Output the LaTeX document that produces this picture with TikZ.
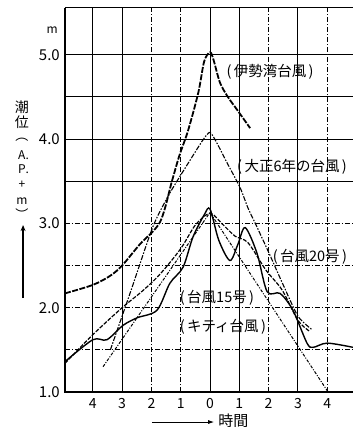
\documentclass[tikz,border=0pt]{standalone}
\usepackage{fontspec}
\newfontfamily\jpfont{Noto Sans CJK JP}
\usetikzlibrary{arrows.meta}

\tikzset{
  gitter/.style={line width=1pt},
  gitterstrich/.style={line width=0.8pt, dash pattern=on 5pt off 2pt on 1pt off 2pt},
  achse/.style={line width=1.8pt},
  marke/.style={font=\jpfont\fontsize{14}{14}\selectfont, inner sep=0pt},
  kurvenname/.style={font=\jpfont\fontsize{14.5}{14.5}\selectfont, inner sep=0pt},
  isewan/.style={line width=1.8pt, dash pattern=on 6pt off 1.5pt},
  taisho/.style={line width=1.1pt, dash pattern=on 5pt off 1.5pt on 1.5pt off 1.5pt},
  nrzwanzig/.style={line width=1.4pt},
  nrfuenfzehn/.style={line width=1.2pt, dash pattern=on 4pt off 1.5pt},
  kitty/.style={line width=1pt, dash pattern=on 3pt off 1.5pt on 1pt off 1.5pt},
}

\begin{document}
\begin{tikzpicture}[x=29.3pt, y=84.3pt]
\useasboundingbox (-7.167,0.585) rectangle (4.88,5.65);

% Gitterlinien
\foreach \h in {-4,-3,0,1,3}
    \draw[gitter] (\h,1) -- (\h,5.555);
\foreach \h in {-2,-1,2,4}
    \draw[gitterstrich] (\h,1) -- (\h,5.555);
\foreach \v in {3.5,4,4.5,5}
    \draw[gitter] (-4.95,\v) -- (4.88,\v);
\foreach \v in {1.5,2,2.5,3}
    \draw[gitterstrich] (-4.95,\v) -- (4.88,\v);
\draw[gitter] (-4.95,5.555) -- (4.88,5.555);
\draw[achse] (-4.95,5.555) -- (-4.95,1) -- (4.88,1);

% Beschriftung der Achsen
\foreach \h/\t [count=\i] in {-4/4,-3/3,-2/2,-1/1,0/0,1/1,2/2,3/3,4/4}
    \node[marke] (zeit\i) at (\h,0.86) {\t};
\foreach \v in {1,...,5}
    \node[marke, font=\jpfont\fontsize{15}{15}\selectfont, anchor=east] (pegel\v) at (-5.12,\v) {\v.0};
\node[marke, font=\jpfont\fontsize{12}{12}\selectfont] (einheit) at (-5.39,5.29) {m};

% senkrechte Achsenbeschriftung, Zeichen einzeln gesetzt
\foreach \zeichen/\py/\gr [count=\i] in {潮/107.5/14, 位/122.5/14, ︵/140/13, A\rlap{.}/155/12,
        P\rlap{.}/169.5/12, +/185/12, m/201/12, ︶/214/13} {
    \pgfmathsetmacro{\pv}{1+(392-\py)/84.3}
    \node[marke, font=\jpfont\fontsize{\gr}{\gr}\selectfont] (titel\i) at (-6.42,\pv) {\zeichen};
}
\coordinate (pfeilfuss) at (-6.38,2.115);
\coordinate (pfeilspitze) at (-6.38,2.98);
\draw[line width=2.4pt, -{Stealth[length=6pt,width=5pt]}] (pfeilfuss) -- (pfeilspitze);

\node[marke, font=\jpfont\fontsize{15}{15}\selectfont] (zeitachse) at (0.8,0.66) {時間};
\coordinate (zeitstart) at (-1.98,0.644);
\draw[line width=0.9pt, -{Latex[length=6pt,width=4pt]}, shorten >=4pt]
    (zeitstart) -- (zeitstart -| zeitachse.west);

% Kurven
\draw[isewan] plot[smooth, tension=0.5] coordinates {
    (-4.95,2.17) (-4,2.27) (-3.4,2.38) (-3,2.5) (-2.4,2.75) (-1.7,3.02)
    (-1.3,3.5) (-1.05,3.8) (-0.75,4.1) (-0.4,4.55) (-0.2,4.92) (0,5.03)
    (0.12,4.94) (0.34,4.67) (0.61,4.5) (0.92,4.35) (1.37,4.13)};
\draw[taisho] plot[smooth, tension=0.4] coordinates {
    (-3.4,1.5) (-2.7,2.2) (-1.95,2.96) (-1.37,3.36) (-0.68,3.75) (-0.24,3.99)
    (0,4.08) (0.24,3.95) (0.58,3.72) (1.02,3.43) (1.3,3.18) (1.6,2.96)
    (2.05,2.62) (2.46,2.3) (3.0,1.9) (3.48,1.74)};
\draw[nrzwanzig] plot[smooth, tension=0.5] coordinates {
    (-4.95,1.36) (-4.0,1.62) (-3.52,1.62) (-2.97,1.79) (-2.49,1.88) (-1.81,1.97)
    (-1.37,2.29) (-0.92,2.48) (-0.58,2.84) (-0.2,3.1) (0,3.17) (0.3,2.8)
    (0.68,2.56) (0.95,2.75) (1.2,2.95) (1.6,2.65) (1.95,2.19) (2.39,2.17)
    (2.83,1.97) (3.31,1.58) (3.52,1.53) (4.0,1.58) (4.88,1.53)};
\draw[nrfuenfzehn] plot[smooth, tension=0.5] coordinates {
    (-4.95,1.34) (-4,1.68) (-3,2.0) (-2.3,2.2) (-1.7,2.4) (-1.0,2.7)
    (-0.5,2.98) (0,3.12) (0.4,3.0) (0.85,2.85) (1.3,2.77) (1.9,2.45)
    (2.46,2.21) (3.0,1.85) (3.4,1.72)};
\draw[kitty] (-3.65,1.3) -- (0,3.13) -- (4.03,1.0);

% Namen der Taifune
\node[kurvenname] (ise) at (2.05,4.80) {(\,伊勢湾台風\,)};
\node[kurvenname] (taishoname) at (2.8,3.67) {(\,大正6年の台風\,)};
\node[kurvenname] (zwanzig) at (3.41,2.60) {(\,台風20号\,)};
\node[kurvenname] (fuenfzehn) at (0.24,2.115) {(\,台風15号\,)};
\node[kurvenname] (kittyname) at (0.44,1.77) {(\,キティ台風\,)};
\end{tikzpicture}
\end{document}
